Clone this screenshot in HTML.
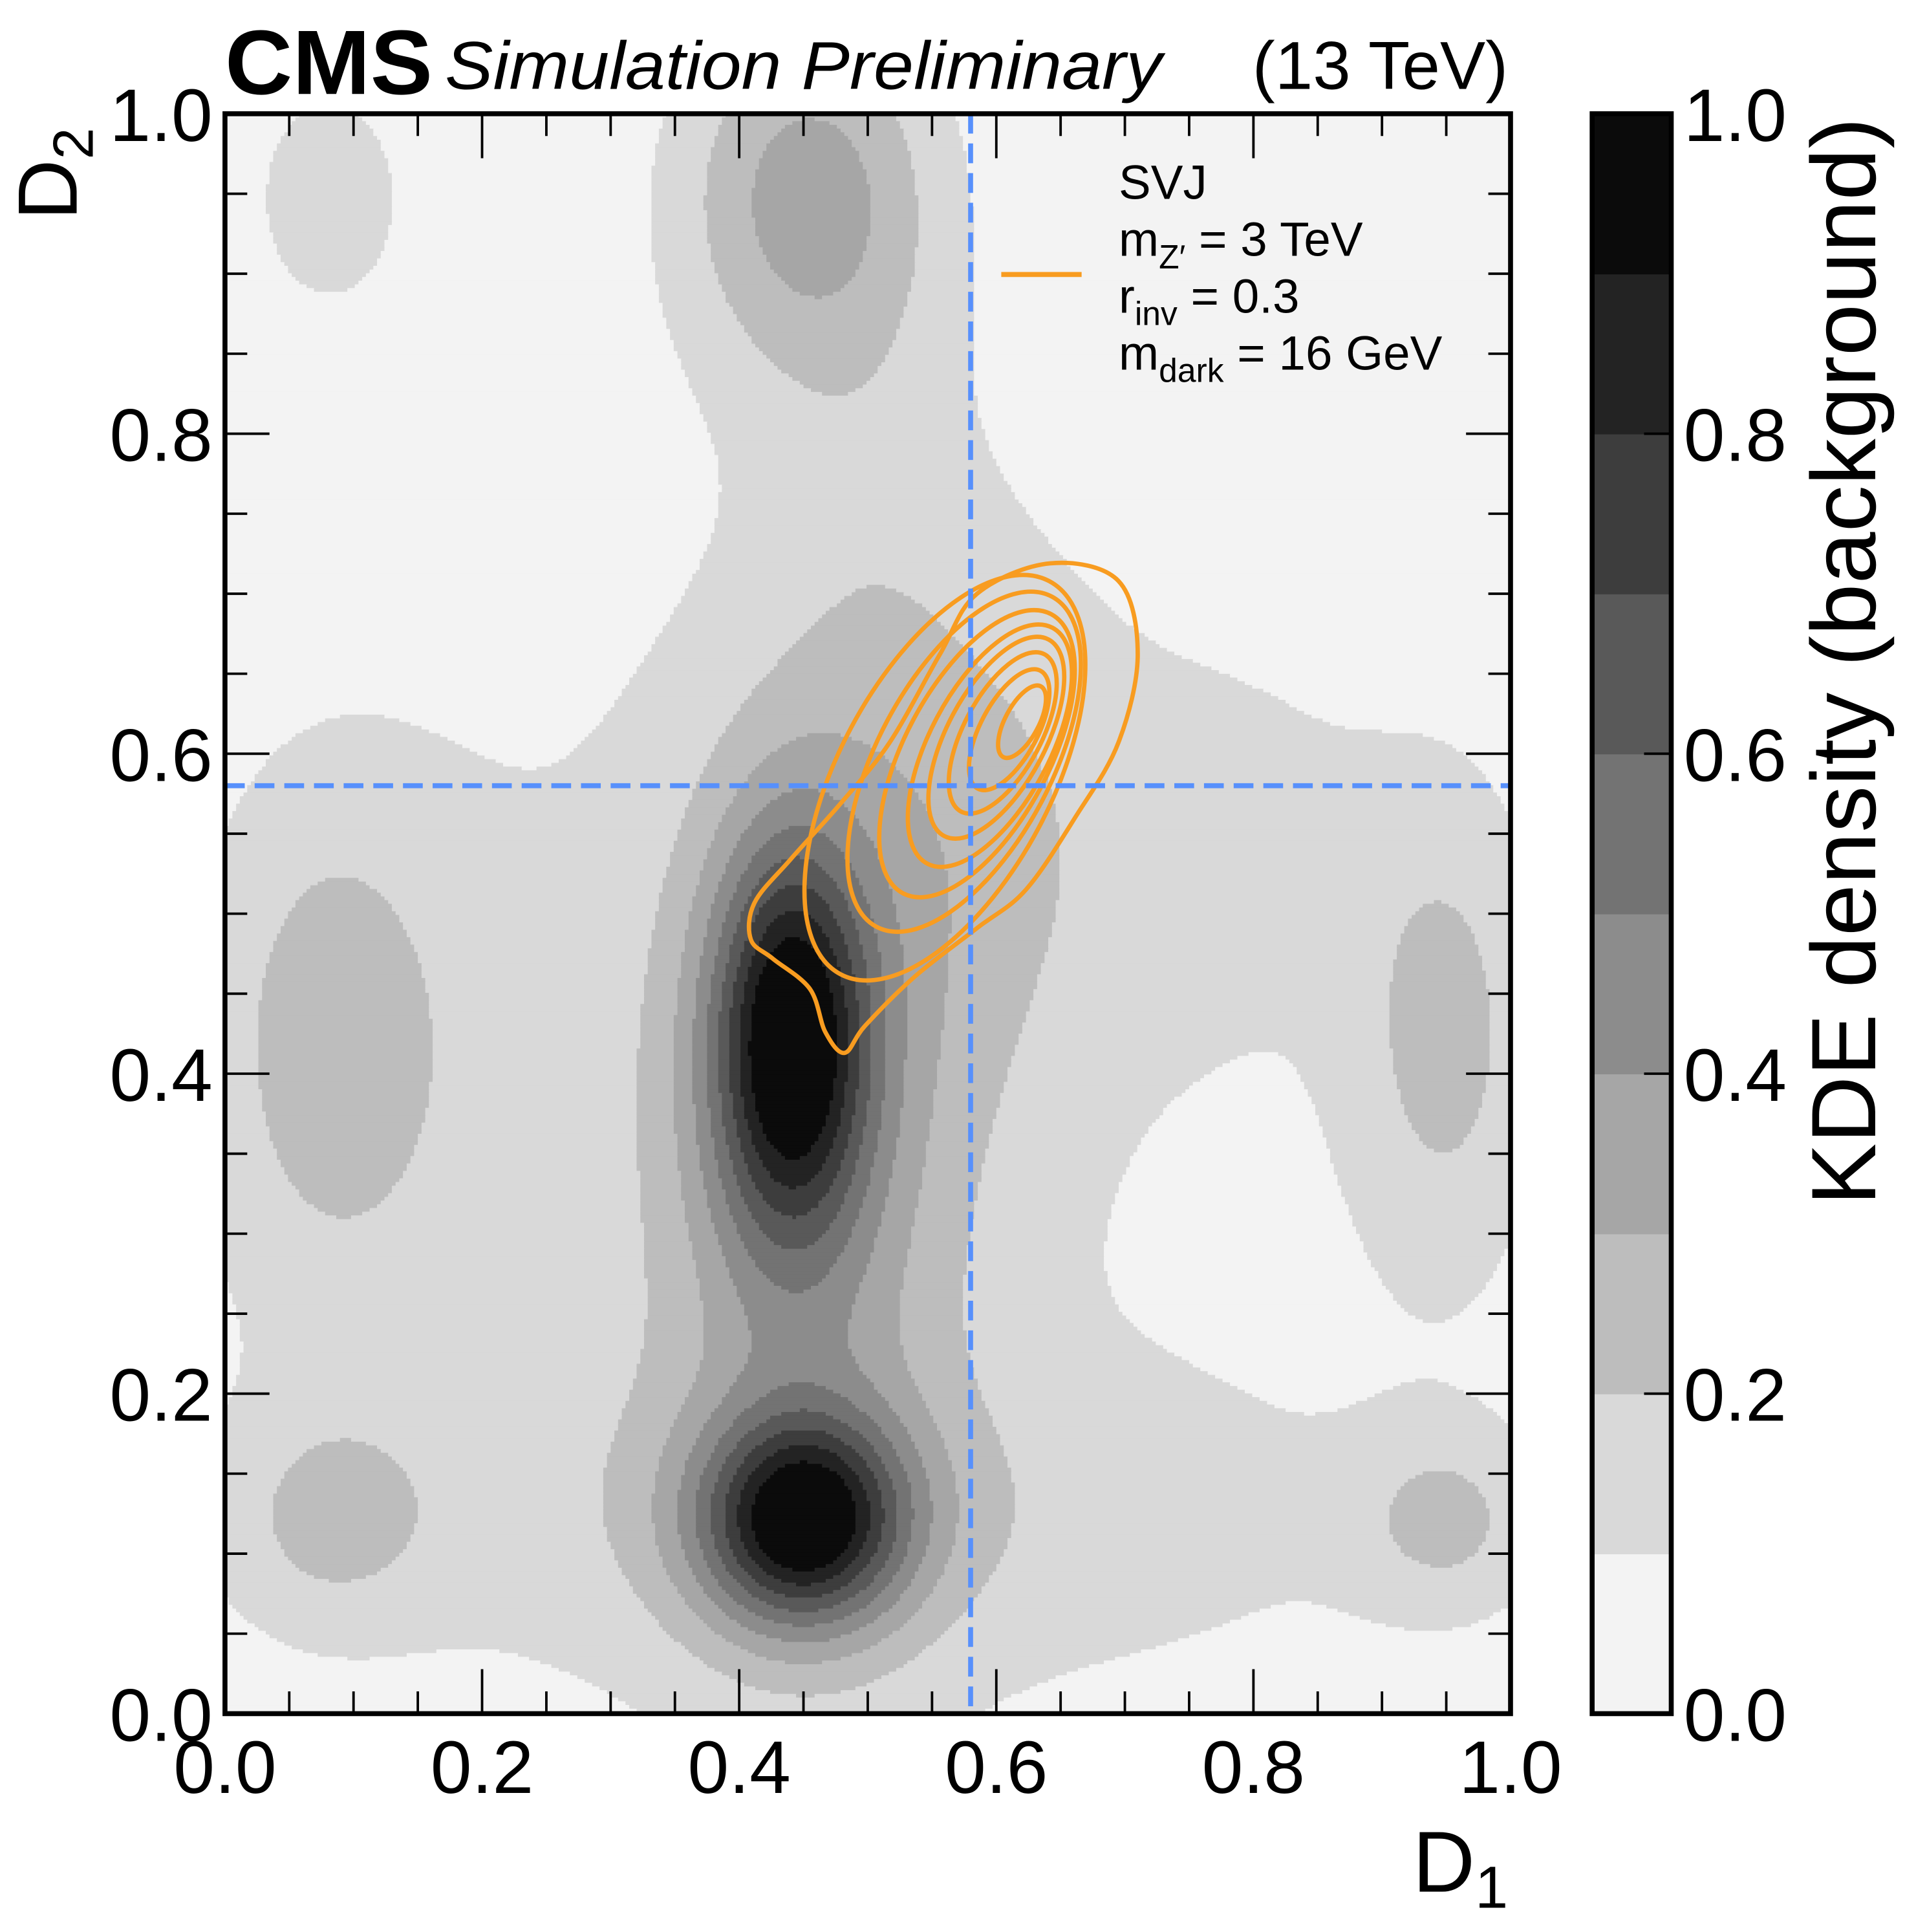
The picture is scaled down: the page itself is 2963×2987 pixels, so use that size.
<!DOCTYPE html>
<html><head><meta charset="utf-8">
<style>
html,body{margin:0;padding:0;background:#fff;}
svg{display:block;}
text{font-family:"Liberation Sans",sans-serif;fill:#000;}
</style></head>
<body>
<svg id="chart" width="2963" height="2987" viewBox="0 0 1550 1562.6" preserveAspectRatio="none" xmlns="http://www.w3.org/2000/svg">
<defs><clipPath id="clipPlot"><rect x="182" y="92" width="1040" height="1294"/></clipPath></defs>
<g id="heat" clip-path="url(#clipPlot)"></g>
<g id="sig" clip-path="url(#clipPlot)"></g>
<g id="cuts"></g>
<rect x="182" y="92" width="1040" height="1294" fill="none" stroke="#000" stroke-width="4"/>
<g id="ticks"></g>
<g id="cbar"></g>
<text x="182" y="76" font-size="74" font-weight="bold" textLength="168" lengthAdjust="spacingAndGlyphs">CMS</text>
<text x="360" y="72" font-size="55" font-style="italic" textLength="580" lengthAdjust="spacingAndGlyphs">Simulation Preliminary</text>
<text x="1220" y="72" font-size="55" text-anchor="end">(13 TeV)</text>
<text transform="translate(62,178) rotate(-90)" font-size="68">D<tspan font-size="46" dy="13">2</tspan></text>
<text x="1220" y="1530" font-size="70" text-anchor="end">D<tspan font-size="48" dy="13">1</tspan></text>
<text transform="translate(1517,95) rotate(-90)" font-size="74" text-anchor="end" textLength="880" lengthAdjust="spacingAndGlyphs">KDE density (background)</text>
<g>
<line x1="810" y1="222" x2="875" y2="222" stroke="#f89c20" stroke-width="4"/>
<text x="905" y="161" font-size="39">SVJ</text>
<text x="905" y="207" font-size="39">m<tspan font-size="27" dy="10">Z′</tspan><tspan dy="-10"> = 3 TeV</tspan></text>
<text x="905" y="253" font-size="39">r<tspan font-size="27" dy="10">inv</tspan><tspan dy="-10"> = 0.3</tspan></text>
<text x="905" y="299" font-size="39">m<tspan font-size="27" dy="10">dark</tspan><tspan dy="-10"> = 16 GeV</tspan></text>
</g>
</svg>
<script>
// ---- data ----
const xTicks = [0.0, 0.2, 0.4, 0.6, 0.8, 1.0];
const yTicks = [0.0, 0.2, 0.4, 0.6, 0.8, 1.0];
const tickLabels = ["0.0", "0.2", "0.4", "0.6", "0.8", "1.0"];
const levels = [0.0, 0.1, 0.2, 0.3, 0.4, 0.5, 0.6, 0.7, 0.8, 0.9];
const levelColors = ["#f3f3f3","#d9d9d9","#bdbdbd","#a6a6a6","#8c8c8c","#737373","#595959","#3d3d3d","#232323","#0b0b0b"];
// background KDE components: centre x, centre y, sigma x, sigma y, amplitude
const compX   = [0.45, 0.44, 0.45, 0.08, 0.08, 0.45, 0.08, 0.95, 0.95, 0.50, 0.76, 0.50, 0.58, 0.50, 0.22];
const compY   = [0.12, 0.42, 0.35, 0.42, 0.12, 0.95, 0.95, 0.42, 0.12, 0.12, 0.55, 0.78, 0.55, 0.35, 0.40];
const compSX  = [0.055,0.042,0.085,0.07, 0.06, 0.07, 0.05, 0.05, 0.05, 0.30, 0.14, 0.06, 0.07, 0.45, 0.08];
const compSY  = [0.045,0.085,0.20, 0.12, 0.05, 0.08, 0.06, 0.10, 0.04, 0.07, 0.10, 0.18, 0.14, 0.40, 0.20];
const compAmp = [0.78, 0.76, 0.28, 0.20, 0.15, 0.30, 0.13, 0.18, 0.16, 0.10, 0.07, 0.06, 0.10, 0.09, 0.04];
// signal contours
const cutD1 = 0.58, cutD2 = 0.58;
const sigCenterX = [0.56, 0.575, 0.585, 0.595, 0.60, 0.605, 0.61, 0.62];
const sigCenterY = [0.585, 0.595, 0.60, 0.605, 0.61, 0.613, 0.615, 0.62];
const sigScale   = [1.00, 0.84, 0.71, 0.60, 0.50, 0.40, 0.30, 0.18];
const outerX = [0.585,0.642,0.695,0.710,0.695,0.662,0.623,0.585,0.537,0.498,0.482,0.467,0.455,0.426,0.409,0.412,0.440,0.479,0.517,0.556];
const outerY = [0.700,0.719,0.708,0.662,0.607,0.561,0.515,0.491,0.461,0.430,0.413,0.426,0.453,0.472,0.484,0.507,0.534,0.569,0.607,0.662];

// ---- axes ----
const X0=182, X1=1222, Y0=1386, Y1=92;
const sx = v => X0 + v*(X1-X0);
const sy = v => Y0 - v*(Y0-Y1);
const NS="http://www.w3.org/2000/svg";
function mk(tag, attrs, parent){const e=document.createElementNS(NS,tag);for(const k in attrs)e.setAttribute(k,attrs[k]);parent.appendChild(e);return e;}

// heatmap
const heat=document.getElementById('heat');
function dens(x,y){let s=0;for(let i=0;i<compX.length;i++){const dx=(x-compX[i])/compSX[i],dy=(y-compY[i])/compSY[i];s+=compAmp[i]*Math.exp(-0.5*(dx*dx+dy*dy));}return Math.min(s,0.999);}
function lvl(v){let k=0;for(let i=0;i<levels.length;i++)if(v>=levels[i])k=i;return k;}
const cw=3, ch=3;
for(let py=Y1; py<Y0; py+=ch){
  let runStart=X0, runL=-1;
  const yv=(Y0-(py+ch/2))/(Y0-Y1);
  for(let px=X0; px<=X1+cw; px+=cw){
    const L = px<X1 ? lvl(dens((px+cw/2-X0)/(X1-X0), yv)) : -2;
    if(L!==runL){
      if(runL>=0){
        const r=mk('rect',{x:runStart,y:py,width:px-runStart+0.6,height:ch+0.6,fill:levelColors[runL]},heat);
        
        
      }
      runStart=px; runL=L;
    }
    if(L===-2)break;
  }
}

// signal contours
const sig=document.getElementById('sig');
const ang=-62, A=180, B=86;
for(let i=0;i<sigScale.length;i++){
  const cx=sx(sigCenterX[i]), cy=sy(sigCenterY[i]);
  const e=mk('ellipse',{cx:cx,cy:cy,rx:A*sigScale[i],ry:B*sigScale[i]*(0.85+0.15*sigScale[i]),transform:`rotate(${ang} ${cx} ${cy})`,fill:'none',stroke:'#f89c20','stroke-width':3.5},sig);
  
  
}
(function(){
  const n=outerX.length;const P=[];for(let i=0;i<n;i++)P.push([sx(outerX[i]),sy(outerY[i])]);
  let d=`M${P[0][0]},${P[0][1]}`;
  for(let i=0;i<n;i++){const p0=P[(i-1+n)%n],p1=P[i],p2=P[(i+1)%n],p3=P[(i+2)%n];
    d+=` C${p1[0]+(p2[0]-p0[0])/6},${p1[1]+(p2[1]-p0[1])/6} ${p2[0]-(p3[0]-p1[0])/6},${p2[1]-(p3[1]-p1[1])/6} ${p2[0]},${p2[1]}`;}
  const p=mk('path',{d:d+'Z',fill:'none',stroke:'#f89c20','stroke-width':3.5},sig);
  
  
})();

// cut lines
const cuts=document.getElementById('cuts');
const vl=mk('line',{x1:sx(cutD1),x2:sx(cutD1),y1:Y1,y2:Y0,stroke:'#5790fc','stroke-width':4,'stroke-dasharray':'16,8'},cuts);


const hl=mk('line',{x1:X0,x2:X1,y1:sy(cutD2),y2:sy(cutD2),stroke:'#5790fc','stroke-width':4,'stroke-dasharray':'16,8'},cuts);



// ticks
const tg=document.getElementById('ticks');
for(let k=0;k<=20;k++){
  const v=k*0.05, major=(k%4===0), len=major?36:18;
  const attrs={stroke:'#000','stroke-width':2};
  mk('line',Object.assign({x1:sx(v),x2:sx(v),y1:Y0,y2:Y0-len},attrs),tg);
  mk('line',Object.assign({x1:sx(v),x2:sx(v),y1:Y1,y2:Y1+len},attrs),tg);
  mk('line',Object.assign({x1:X0,x2:X0+len,y1:sy(v),y2:sy(v)},attrs),tg);
  mk('line',Object.assign({x1:X1,x2:X1-len,y1:sy(v),y2:sy(v)},attrs),tg);
}
xTicks.forEach((v,i)=>{
  const t=mk('text',{x:sx(v),y:1450,'font-size':60,'text-anchor':'middle'},tg);t.textContent=tickLabels[i];
  
  
});
yTicks.forEach((v,i)=>{
  const t=mk('text',{x:172,y:sy(v)+22,'font-size':60,'text-anchor':'end'},tg);t.textContent=tickLabels[i];
  
  
});

// colorbar
const cb=document.getElementById('cbar');
const CX0=1288, CX1=1352;
levels.forEach((lv,i)=>{
  const r=mk('rect',{x:CX0,y:sy(lv+0.1),width:CX1-CX0,height:sy(lv)-sy(lv+0.1)+0.5,fill:levelColors[i]},cb);
  
  
});
mk('rect',{x:CX0,y:Y1,width:CX1-CX0,height:Y0-Y1,fill:'none',stroke:'#000','stroke-width':4},cb);
yTicks.forEach((v,i)=>{
  mk('line',{x1:CX1,x2:CX1-22,y1:sy(v),y2:sy(v),stroke:'#000','stroke-width':2},cb);
  const t=mk('text',{x:1362,y:sy(v)+22,'font-size':60},cb);t.textContent=tickLabels[i];
  
  
});
</script>
</body></html>
